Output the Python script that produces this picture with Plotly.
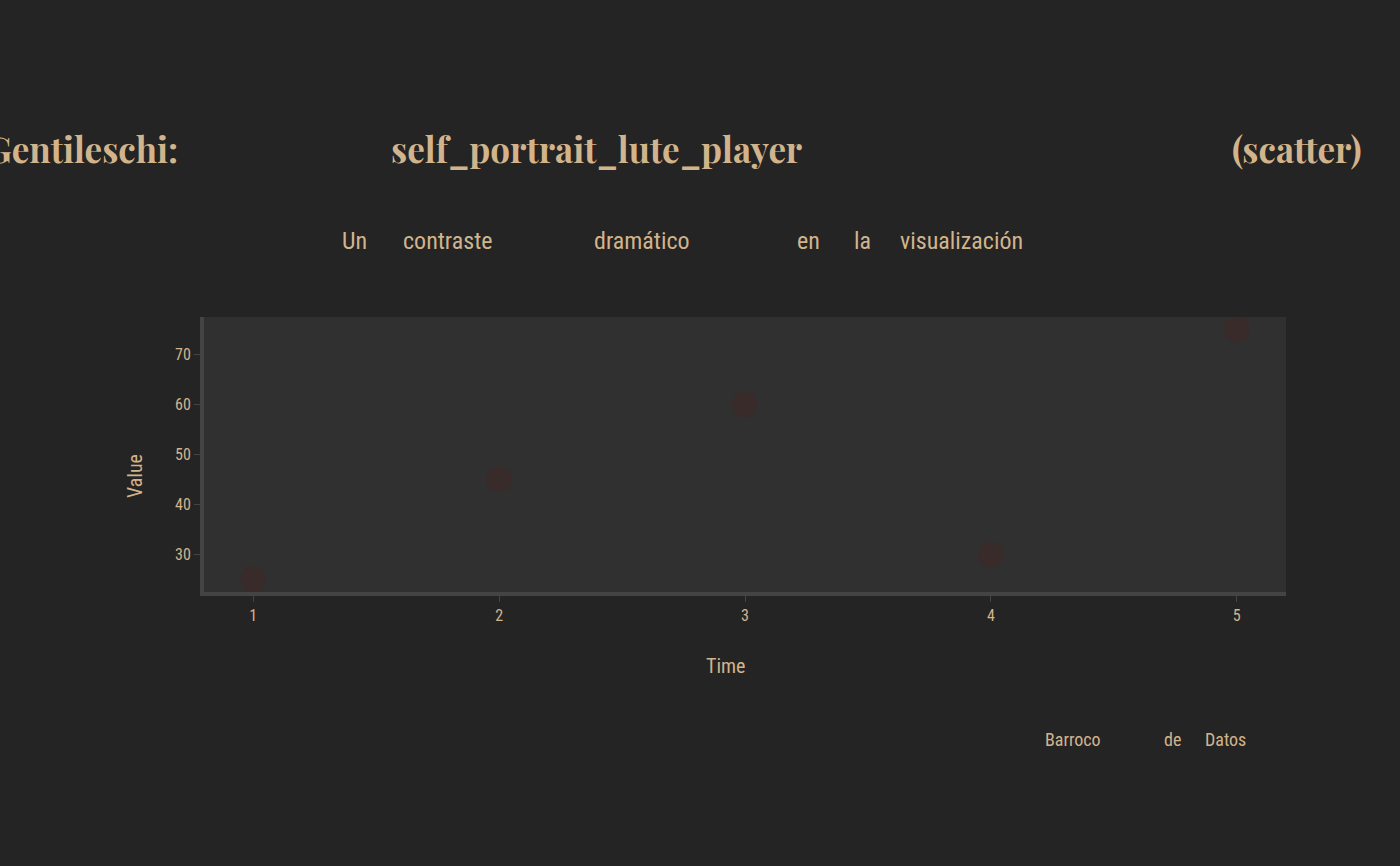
import plotly.graph_objects as go

x_vals = [1, 2, 3, 4, 5]
y_vals = [25, 45, 60, 30, 75]
x_ticks = [1, 2, 3, 4, 5]
y_ticks = [30, 40, 50, 60, 70]

title_words = ["Gentileschi:", "self_portrait_lute_player", "(scatter)"]
subtitle_words = ["Un", "contraste", "dramático", "en", "la", "visualización"]
footer_words = ["Barroco", "de", "Datos"]
x_title = "Time"
y_title = "Value"

W, H = 1400, 866
L, R, T, B = 204, 114, 317, 274
PW, PH = W - L - R, H - T - B

def px(x):
    return (x - L) / PW

def py(y):
    return (H - B - y) / PH

TAN = "#d2b48c"
SANS = "Roboto Condensed, Liberation Sans Narrow, Roboto, sans-serif"
SERIF = "Playfair Display, Liberation Serif, DejaVu Serif, serif"

fig = go.Figure()
fig.add_trace(go.Scatter(
    x=x_vals, y=y_vals, mode="markers",
    marker=dict(size=26, color="#392b2a", line=dict(width=0)),
    showlegend=False, hoverinfo="x+y",
))

ann = []
title_pos = [(180, "right"), (389, "left"), (1230, "left")]
for w, (x, a) in zip(title_words, title_pos):
    ann.append(dict(text=w, x=px(x), y=py(148), xref="paper", yref="paper",
                    xanchor=a, yanchor="middle", showarrow=False,
                    font=dict(family=SERIF, size=35, color=TAN, weight="bold")))
sub_pos = [340, 401, 592, 795, 852, 898]
for w, x in zip(subtitle_words, sub_pos):
    ann.append(dict(text=w, x=px(x), y=py(241), xref="paper", yref="paper",
                    xanchor="left", yanchor="middle", showarrow=False,
                    font=dict(family=SANS, size=24, color=TAN)))
foot_pos = [1043, 1162, 1203]
for w, x in zip(footer_words, foot_pos):
    ann.append(dict(text=w, x=px(x), y=py(739), xref="paper", yref="paper",
                    xanchor="left", yanchor="middle", showarrow=False,
                    font=dict(family=SANS, size=18, color=TAN)))
ann.append(dict(text=x_title, x=px(725), y=py(666), xref="paper", yref="paper",
                xanchor="center", yanchor="middle", showarrow=False,
                font=dict(family=SANS, size=20, color=TAN)))
ann.append(dict(text=y_title, x=px(135), y=py(476), xref="paper", yref="paper",
                xanchor="center", yanchor="middle", showarrow=False, textangle=-90,
                font=dict(family=SANS, size=20, color=TAN)))

fig.update_layout(
    width=W, height=H,
    margin=dict(l=L, r=R, t=T, b=B, pad=0),
    paper_bgcolor="#242424",
    plot_bgcolor="#303030",
    annotations=ann,
    font=dict(family=SANS, color=TAN),
    xaxis=dict(range=[0.8, 5.2], tickvals=x_ticks, showgrid=False, zeroline=False,
               showline=True, linecolor="#444444", linewidth=4,
               ticks="outside", ticklen=6, tickwidth=1, tickcolor="#444444",
               tickfont=dict(family=SANS, size=16, color=TAN)),
    yaxis=dict(range=[22.5, 77.5], tickvals=y_ticks, showgrid=False, zeroline=False,
               showline=True, linecolor="#444444", linewidth=4,
               ticks="outside", ticklen=6, tickwidth=1, tickcolor="#444444",
               tickfont=dict(family=SANS, size=16, color=TAN)),
)

fig.write_html("out.html")
